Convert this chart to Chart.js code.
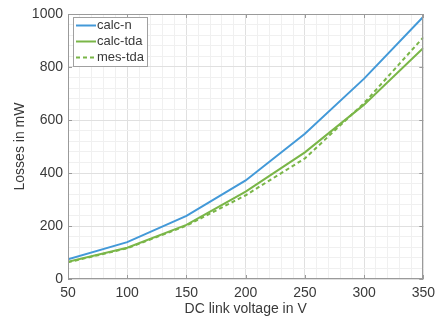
<!DOCTYPE html>
<html><head><meta charset="utf-8">
<script src="https://cdn.jsdelivr.net/npm/chart.js@4.4.1/dist/chart.umd.min.js"></script>
<style>html,body{margin:0;padding:0;background:#fff;}#wrap{width:441px;height:320px;}</style>
</head><body><div id="wrap"><canvas id="c" width="441" height="320"></canvas></div>
<script>
const voltages = [50, 100, 150, 200, 250, 300, 350];
const calcN = [74, 139, 238, 372, 548, 756, 990];
const calcTda = [65, 118, 204, 330, 478, 658, 872];
const mesTda = [63, 116, 201, 316, 455, 664, 912];
const seriesLabels = ['calc-n', 'calc-tda', 'mes-tda'];
const xTitle = 'DC link voltage in V';
const yTitle = 'Losses in mW';

const FONT = "'Liberation Sans', Arial, Helvetica, sans-serif";
const TEXT = '#3a3a3a';
const BLUE = '#4399d8';
const GREEN = '#7ab648';

const boxPlugin = {
  id: 'boxPlugin',
  afterDatasetsDraw(chart) {
    const {ctx, chartArea: a, scales: {x, y}} = chart;
    ctx.save();
    ctx.strokeStyle = '#9a9a9a';
    ctx.lineWidth = 1;
    ctx.strokeRect(Math.round(a.left) + 0.5, Math.round(a.top) + 0.5, Math.round(a.right - a.left) - 1, Math.round(a.bottom - a.top) - 1);
    const tl = 4;
    ctx.beginPath();
    for (let v = 50; v <= 350; v += 50) {
      const px = Math.round(x.getPixelForValue(v)) + 0.5;
      ctx.moveTo(px, a.bottom); ctx.lineTo(px, a.bottom - tl);
      ctx.moveTo(px, a.top); ctx.lineTo(px, a.top + tl);
    }
    for (let v = 0; v <= 1000; v += 200) {
      const py = Math.round(y.getPixelForValue(v)) + 0.5;
      ctx.moveTo(a.left, py); ctx.lineTo(a.left + tl, py);
      ctx.moveTo(a.right, py); ctx.lineTo(a.right - tl, py);
    }
    ctx.stroke();
    // legend
    const lx = 73, ly = 17, lw = 74, lh = 49;
    ctx.fillStyle = '#fff';
    ctx.fillRect(lx, ly, lw, lh);
    ctx.strokeStyle = '#a0a0a0';
    ctx.strokeRect(lx + 0.5, ly + 0.5, lw, lh);
    ctx.font = '13px ' + FONT;
    ctx.textBaseline = 'middle';
    ctx.textAlign = 'left';
    chart.data.datasets.forEach((ds, i) => {
      const cy = 25.5 + i * 16;
      ctx.strokeStyle = ds.borderColor;
      ctx.lineWidth = 2;
      ctx.setLineDash(ds.borderDash || []);
      ctx.beginPath(); ctx.moveTo(76, cy); ctx.lineTo(96, cy); ctx.stroke();
      ctx.setLineDash([]);
      ctx.fillStyle = TEXT;
      ctx.fillText(ds.label, 97, cy);
    });
    ctx.restore();
  }
};

new Chart(document.getElementById('c'), {
  type: 'line',
  data: {
    datasets: [
      {label: seriesLabels[0], data: voltages.map((v, i) => ({x: v, y: calcN[i]})), borderColor: BLUE, borderWidth: 2, pointRadius: 0, tension: 0},
      {label: seriesLabels[1], data: voltages.map((v, i) => ({x: v, y: calcTda[i]})), borderColor: GREEN, borderWidth: 2, pointRadius: 0, tension: 0},
      {label: seriesLabels[2], data: voltages.map((v, i) => ({x: v, y: mesTda[i]})), borderColor: GREEN, borderWidth: 2, borderDash: [4, 3], pointRadius: 0, tension: 0}
    ]
  },
  options: {
    responsive: false,
    animation: false,
    layout: {padding: {left: 0, right: 16, top: 14, bottom: 0}},
    plugins: {legend: {display: false}, tooltip: {enabled: false}},
    scales: {
      x: {
        type: 'linear', min: 50, max: 350,
        afterFit(s) { s.height = 41; },
        afterBuildTicks(s) { const t = []; for (let v = 50; v <= 350; v += 10) t.push({value: v}); s.ticks = t; },
        ticks: {autoSkip: false, maxRotation: 0, padding: 6, color: TEXT, font: {family: FONT, size: 14},
          callback: v => (v % 50 === 0 ? String(v) : '')},
        grid: {drawTicks: false, color: c => (c.tick && c.tick.value % 50 === 0 ? '#e0e0e0' : '#f0f0f0')},
        border: {display: false},
        title: {display: true, text: xTitle, color: TEXT, font: {family: FONT, size: 14}, padding: {top: 0, bottom: 2}}
      },
      y: {
        type: 'linear', min: 0, max: 1000,
        afterFit(s) { s.width = 68; },
        afterBuildTicks(s) { const t = []; for (let v = 0; v <= 1000; v += 40) t.push({value: v}); s.ticks = t; },
        ticks: {autoSkip: false, padding: 5, color: TEXT, font: {family: FONT, size: 14},
          callback: v => (v % 200 === 0 ? String(v) : '')},
        grid: {drawTicks: false, color: c => (c.tick && c.tick.value % 200 === 0 ? '#e0e0e0' : '#f0f0f0')},
        border: {display: false},
        title: {display: true, text: yTitle, color: TEXT, font: {family: FONT, size: 14}, padding: {top: 12, bottom: 0}}
      }
    }
  },
  plugins: [boxPlugin]
});
</script></body></html>
